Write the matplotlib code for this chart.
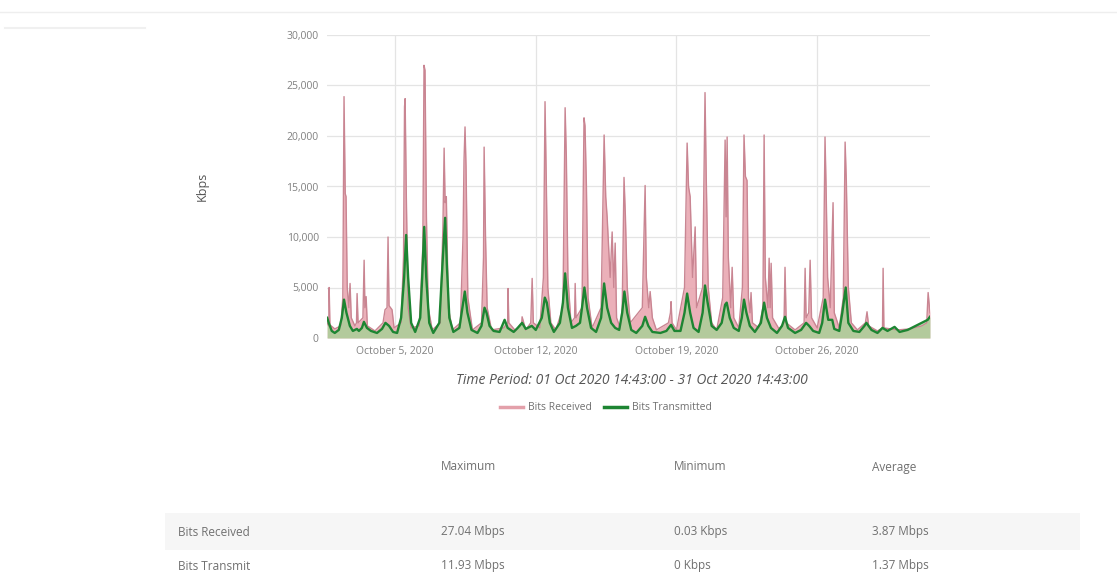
import numpy as np
import pandas as pd
import matplotlib
matplotlib.use('Agg')
import matplotlib.pyplot as plt
import matplotlib.ticker as mticker
import matplotlib.dates as mdates
from matplotlib.lines import Line2D
from matplotlib.patches import Rectangle

plt.rcParams['font.family'] = ['Open Sans', 'DejaVu Sans']

# day of October (fractional) and Kbps
rx_days = [1.62, 1.70, 1.72, 1.76, 2.0, 2.30, 2.40, 2.46, 2.52, 2.56, 2.62, 2.70, 2.76, 2.82,
           3.0, 3.08, 3.11, 3.16, 3.40, 3.46, 3.50, 3.56, 3.62, 4.0, 4.40, 4.50, 4.60, 4.65,
           4.70, 4.85, 4.95, 5.30, 5.42, 5.47, 5.50, 5.56, 5.65, 5.80, 6.20, 6.38, 6.44, 6.49,
           6.56, 6.65, 6.85, 7.25, 7.38, 7.44, 7.49, 7.55, 7.65, 7.85, 8.25, 8.38, 8.43, 8.48,
           8.53, 8.62, 8.85, 9.30, 9.40, 9.43, 9.50, 9.58, 9.80, 10.4, 10.60, 10.62, 10.66,
           11.0, 11.3, 11.32, 11.5, 11.75, 11.82, 11.88, 12.2, 12.38, 12.46, 12.52, 12.60,
           12.75, 13.0, 13.35, 13.46, 13.52, 13.60, 13.75, 13.93, 13.96, 14.0, 14.30, 14.40,
           14.45, 14.52, 14.60, 14.80, 15.25, 15.40, 15.48, 15.55, 15.70, 15.80, 15.88, 15.95,
           16.02, 16.20, 16.30, 16.39, 16.46, 16.55, 16.70, 17.30, 17.44, 17.50, 17.62, 17.69,
           17.80, 18.0, 18.6, 18.70, 18.73, 18.78, 19.0, 19.40, 19.53, 19.60, 19.68, 19.80,
           19.93, 20.0, 20.30, 20.42, 20.48, 20.58, 20.75, 21.0, 21.30, 21.42, 21.47, 21.52,
           21.58, 21.70, 21.77, 21.85, 22.1, 22.28, 22.36, 22.43, 22.51, 22.58, 22.66, 22.71,
           22.78, 23.1, 23.30, 23.36, 23.42, 23.55, 23.61, 23.66, 23.71, 23.78, 24.1, 24.35,
           24.40, 24.46, 24.9, 25.35, 25.40, 25.45, 25.58, 25.65, 25.72, 26.0, 26.30, 26.39,
           26.44, 26.52, 26.65, 26.79, 26.85, 27.1, 27.30, 27.39, 27.45, 27.55, 27.70, 28.0,
           28.40, 28.48, 28.56, 29.0, 29.25, 29.28, 29.32, 30.0, 30.6, 31.2, 31.45, 31.52, 31.61]
rx_kbps = [1500, 1200, 5000, 1300, 900, 1200, 4000, 23900, 14300, 14000, 5000, 3000, 5400, 2000,
           1200, 1500, 4400, 1500, 2000, 7700, 3000, 4100, 1200, 700, 1500, 2800, 3000, 10000,
           3200, 2800, 1000, 1500, 8000, 22900, 23700, 14000, 3000, 1000, 1200, 9000, 27000, 26500,
           12000, 3000, 800, 1500, 11000, 18800, 13400, 14000, 3000, 800, 1500, 10000, 17600, 20900,
           17000, 4000, 800, 1500, 8000, 18900, 10000, 3000, 800, 1000, 1500, 4900, 1500,
           700, 1500, 2100, 800, 1500, 5900, 1500, 1000, 6000, 23400, 16000, 5000,
           1500, 800, 3000, 22800, 18000, 6000, 1500, 2000, 5400, 2000, 3000, 21800,
           21000, 15000, 4000, 1000, 3000, 20100, 14000, 12000, 6000, 10500, 5000, 9400,
           2000, 1000, 3000, 15900, 12000, 5000, 1500, 3000, 15100, 6000, 3000, 4600,
           2000, 800, 1500, 2500, 3600, 1500, 800, 5000, 19300, 15000, 14000, 6000,
           11000, 3000, 5000, 24300, 16000, 5000, 1500, 800, 4000, 19600, 12000, 19900,
           8000, 3000, 7000, 2000, 1000, 5000, 20100, 16000, 15600, 4000, 2500, 4500,
           1500, 1000, 3000, 20100, 6000, 3000, 7900, 3000, 7400, 2000, 900, 1500,
           7000, 1500, 800, 1500, 6900, 2000, 2500, 7700, 2000, 1000, 4000, 19900,
           15300, 6000, 3000, 13400, 2500, 1000, 4000, 19400, 15600, 5000, 1500, 800,
           1500, 2600, 1200, 700, 1000, 6900, 1000, 800, 900, 1200, 1500, 4500, 2500]

tx_days = [1.62, 1.70, 1.85, 2.0, 2.2, 2.35, 2.46, 2.58, 2.75, 2.9, 3.1, 3.2, 3.35, 3.45, 3.6,
           3.8, 4.1, 4.35, 4.52, 4.7, 4.9, 5.1, 5.3, 5.45, 5.55, 5.65, 5.80, 6.0, 6.25, 6.35,
           6.45, 6.55, 6.70, 6.9, 7.2, 7.35, 7.49, 7.58, 7.70, 7.9, 8.2, 8.35, 8.47, 8.60, 8.80,
           9.1, 9.3, 9.45, 9.55, 9.7, 9.9, 10.2, 10.45, 10.6, 10.9, 11.1, 11.32, 11.5, 11.8,
           12.0, 12.3, 12.45, 12.55, 12.70, 12.9, 13.2, 13.35, 13.46, 13.60, 13.8, 14.0, 14.2,
           14.30, 14.42, 14.55, 14.75, 15.0, 15.25, 15.40, 15.55, 15.75, 15.95, 16.15, 16.30,
           16.41, 16.55, 16.75, 17.0, 17.30, 17.44, 17.60, 17.8, 18.2, 18.5, 18.73, 18.9, 19.2,
           19.40, 19.53, 19.68, 19.85, 20.1, 20.30, 20.42, 20.55, 20.75, 21.0, 21.25, 21.42,
           21.50, 21.65, 21.85, 22.1, 22.25, 22.36, 22.48, 22.65, 22.9, 23.2, 23.36, 23.50,
           23.70, 24.0, 24.25, 24.40, 24.55, 24.9, 25.2, 25.45, 25.60, 25.8, 26.1, 26.25, 26.39,
           26.55, 26.75, 26.85, 27.1, 27.25, 27.42, 27.55, 27.8, 28.1, 28.35, 28.45, 28.7, 29.0,
           29.25, 29.5, 29.85, 30.1, 30.5, 30.9, 31.2, 31.5, 31.61]
tx_kbps = [2000, 1500, 700, 500, 800, 2000, 3800, 2500, 1200, 700, 900, 700, 1000, 1600, 1000,
           700, 500, 900, 1500, 1200, 600, 500, 2000, 6000, 10200, 6000, 1500, 600, 2000, 6000,
           11000, 6000, 1500, 500, 1500, 7000, 11900, 7000, 2000, 600, 1000, 3000, 4600, 2500, 800,
           500, 1200, 3000, 2500, 1200, 700, 600, 1800, 1000, 600, 1000, 1500, 900, 1200,
           800, 2000, 4000, 3500, 1500, 600, 1500, 3500, 6400, 3000, 1000, 1200, 1500,
           3000, 5000, 3000, 1000, 600, 2000, 5400, 3000, 1500, 1000, 800, 2500,
           4600, 2500, 800, 500, 1200, 2100, 1200, 600, 500, 700, 1300, 700, 700,
           2500, 4400, 2500, 1000, 600, 2500, 5200, 3500, 1200, 800, 1500, 3300,
           3500, 2000, 1000, 700, 2000, 3800, 2500, 1200, 600, 1500, 3500, 2000,
           1000, 500, 1200, 2100, 1000, 500, 800, 1500, 1200, 700, 500, 1500, 3800,
           1800, 1800, 900, 700, 2500, 5000, 1500, 700, 600, 1200, 1500, 800, 500,
           1000, 700, 1100, 600, 800, 1200, 1500, 1800, 2100]

x_ticks = ['2020-10-05', '2020-10-12', '2020-10-19', '2020-10-26']
y_ticks = [0, 5000, 10000, 15000, 20000, 25000, 30000]
period = 'Time Period: 01 Oct 2020 14:43:00 - 31 Oct 2020 14:43:00'

stat_cols = ['Maximum', 'Minimum', 'Average']
row_names = ['Bits Received', 'Bits Transmit']
rx_stats = ['27.04 Mbps', '0.03 Kbps', '3.87 Mbps']
tx_stats = ['11.93 Mbps', '0 Kbps', '1.37 Mbps']

oct1 = pd.Timestamp('2020-10-01')
def to_time(days):
    return [oct1 + pd.Timedelta(days=d - 1) for d in days]

rx_t = to_time(rx_days)
tx_t = to_time(tx_days)

W, H = 1117, 584
fig = plt.figure(figsize=(W / 100, H / 100), dpi=100)
ax = fig.add_axes([327 / W, 1 - 338 / H, 603 / W, 303 / H])

ax.fill_between(rx_t, rx_kbps, color='#e8a3ad', alpha=0.85, lw=0)
ax.plot(rx_t, rx_kbps, color='#c98592', lw=1.0)
ax.fill_between(tx_t, tx_kbps, color='#8fdc8a', alpha=0.6, lw=0)
ax.plot(tx_t, tx_kbps, color='#1d8532', lw=1.7)

ax.set_xlim(pd.Timestamp('2020-10-01 14:43'), pd.Timestamp('2020-10-31 14:43'))
ax.set_ylim(0, 30000)
ax.set_yticks(y_ticks)
ax.yaxis.set_major_formatter(mticker.FuncFormatter(lambda v, p: f'{int(v):,}'))
ax.set_xticks([pd.Timestamp(t) for t in x_ticks])
ax.xaxis.set_major_formatter(mdates.DateFormatter('%B %-d, %Y'))
ax.tick_params(length=0, labelsize=7.5, labelcolor='#808080', pad=6)
ax.grid(True, color='#e4e4e4', lw=0.9)
ax.set_axisbelow(True)
for s in ax.spines.values():
    s.set_visible(False)
ax.set_ylabel('Kbps', fontsize=9, color='#555555', labelpad=56)

fig.text(632 / W, 1 - 381 / H, period, ha='center', va='center', style='italic',
         fontsize=10, color='#555555')

# legend
leg = [Line2D([], [], color='#e3a0aa', lw=2.5), Line2D([], [], color='#1d8532', lw=2.5)]
fig.legend(leg, ['Bits Received', 'Bits Transmitted'], loc='center', ncol=2,
           bbox_to_anchor=(606 / W, 1 - 408 / H), frameon=False, fontsize=7.5,
           labelcolor='#707070', handlelength=2.2, columnspacing=1.2, handletextpad=0.5)

# page decoration lines
fig.add_artist(Line2D([0, 1], [1 - 12 / H, 1 - 12 / H], color='#eeeeee', lw=1))
fig.add_artist(Line2D([5 / W, 145 / W], [1 - 28 / H, 1 - 28 / H], color='#f0f0f0', lw=1.5))

# stats table
col_x = [441, 674, 872]
fig.add_artist(Rectangle((165 / W, 1 - 550 / H), 915 / W, 37 / H, color='#f6f6f6', lw=0))
for x, c in zip(col_x, stat_cols):
    fig.text(x / W, 1 - 467 / H, c, fontsize=8.5, color='#707070', va='center')
for y, name, vals in zip([532, 566], row_names, [rx_stats, tx_stats]):
    fig.text(178 / W, 1 - y / H, name, fontsize=8.5, color='#707070', va='center')
    for x, v in zip(col_x, vals):
        fig.text(x / W, 1 - y / H, v, fontsize=8.5, color='#707070', va='center')

fig.savefig('out.png', dpi=100, facecolor='white')
